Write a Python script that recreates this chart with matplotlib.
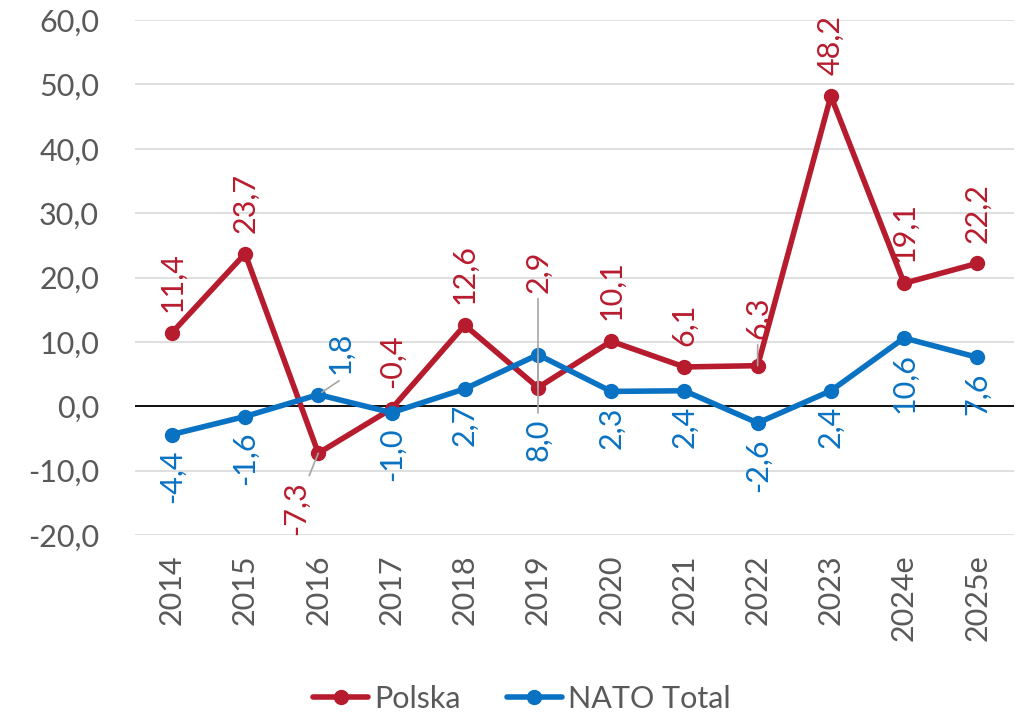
import matplotlib
matplotlib.use("Agg")
import matplotlib.pyplot as plt
from matplotlib import rcParams

rcParams["font.family"] = ["Lato", "DejaVu Sans"]

years = ["2014", "2015", "2016", "2017", "2018", "2019", "2020", "2021",
         "2022", "2023", "2024e", "2025e"]
polska = [11.4, 23.7, -7.3, -0.4, 12.6, 2.9, 10.1, 6.1, 6.3, 48.2, 19.1, 22.2]
nato = [-4.4, -1.6, 1.8, -1.0, 2.7, 8.0, 2.3, 2.4, -2.6, 2.4, 10.6, 7.6]

RED = "#B71C2E"
BLUE = "#0A72C2"
GREY_TXT = "#595959"
FS = 22

# label offsets in points (dx, dy) and whether to draw a leader line
pol_special = {2: (-16, -20, True), 5: (0, 68, True), 8: (0, 19, True)}
nato_special = {2: (16, 15, False), 5: (0, -46, True)}


def fmt(v):
    return f"{v:.1f}".replace(".", ",")


fig = plt.figure(figsize=(10.17, 7.18), dpi=100)
ax = fig.add_axes([0.133, 0.255, 0.864, 0.717])

x = list(range(len(years)))
ax.plot(x, polska, color=RED, lw=4, marker="o", ms=10, label="Polska",
        zorder=3, solid_capstyle="round")
ax.plot(x, nato, color=BLUE, lw=4, marker="o", ms=10, label="NATO Total",
        zorder=3, solid_capstyle="round")

ax.axhline(0, color="black", lw=1.3, zorder=2)

for i, v in enumerate(polska):
    dx, dy, leader = pol_special.get(i, (0, 15, False))
    va = "bottom" if dy > 0 else "top"
    ap = dict(arrowstyle="-", color="#A6A6A6", lw=1.2, shrinkA=2, shrinkB=0) if leader else None
    ax.annotate(fmt(v), (i, v), xytext=(dx, dy), textcoords="offset points",
                rotation=90, ha="center", va=va, color=RED, fontsize=FS,
                arrowprops=ap, zorder=4)

for i, v in enumerate(nato):
    dx, dy, leader = nato_special.get(i, (0, -11, False))
    va = "bottom" if dy > 0 else "top"
    ap = dict(arrowstyle="-", color="#A6A6A6", lw=1.2, shrinkA=2, shrinkB=0) if leader else None
    ax.annotate(fmt(v), (i, v), xytext=(dx, dy), textcoords="offset points",
                rotation=90, ha="center", va=va, color=BLUE, fontsize=FS,
                arrowprops=ap, zorder=4)

# 1,8 label in 2016 has a leader line pointing down-left to its point
ax.annotate("", (2, nato[2]), xytext=(15, 10), textcoords="offset points",
            arrowprops=dict(arrowstyle="-", color="#A6A6A6", lw=1.2,
                            shrinkA=0, shrinkB=3))

ax.set_xlim(-0.5, len(years) - 0.5)
ax.set_ylim(-20, 60)
ax.set_yticks(range(-20, 61, 10))
ax.set_yticklabels([fmt(t) for t in range(-20, 61, 10)])
ax.set_xticks(x)
ax.set_xticklabels(years, rotation=90)
ax.tick_params(axis="both", length=0, labelsize=FS, colors=GREY_TXT)
ax.tick_params(axis="y", pad=26)
ax.tick_params(axis="x", pad=14)
ax.grid(axis="y", color="#D9D9D9", lw=1.2, zorder=0)
for s in ax.spines.values():
    s.set_visible(False)

ax.legend(loc="lower center", bbox_to_anchor=(0.44, -0.37), ncol=2,
          frameon=False, fontsize=FS, labelcolor=GREY_TXT, handlelength=1.8,
          handletextpad=0.2, columnspacing=1.5, borderaxespad=0)

fig.savefig("out.png", dpi=100)
